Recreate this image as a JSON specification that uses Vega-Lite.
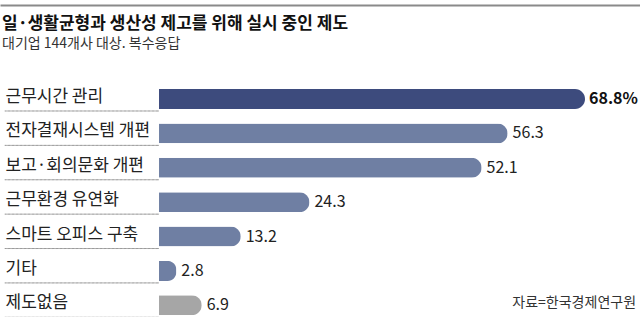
{
  "$schema": "https://vega.github.io/schema/vega-lite/v6.json",
  "autosize": {"type": "none"},
  "padding": 0,
  "width": 640,
  "height": 317,
  "background": "#ffffff",
  "config": {
    "view": {"stroke": null},
    "font": "Noto Sans CJK KR"
  },
  "title": {
    "text": "일·생활균형과 생산성 제고를 위해 실시 중인 제도",
    "subtitle": "대기업 144개사 대상. 복수응답",
    "orient": "top",
    "anchor": "start",
    "dx": 2,
    "offset": -52,
    "fontSize": 17,
    "fontWeight": "bold",
    "color": "#111111",
    "subtitleFontSize": 14,
    "subtitleColor": "#333333",
    "subtitlePadding": 4
  },
  "data": {"values": [
    {"item": "근무시간 관리", "value": 68.8, "label": "68.8%", "group": "top"},
    {"item": "전자결재시스템 개편", "value": 56.3, "label": "56.3", "group": "normal"},
    {"item": "보고·회의문화 개편", "value": 52.1, "label": "52.1", "group": "normal"},
    {"item": "근무환경 유연화", "value": 24.3, "label": "24.3", "group": "normal"},
    {"item": "스마트 오피스 구축", "value": 13.2, "label": "13.2", "group": "normal"},
    {"item": "기타", "value": 2.8, "label": "2.8", "group": "normal"},
    {"item": "제도없음", "value": 6.9, "label": "6.9", "group": "none"}
  ]},
  "encoding": {
    "y": {
      "field": "item", "type": "nominal", "sort": null,
      "scale": {"range": [87.3, 317], "paddingInner": 0.42, "paddingOuter": 0.05},
      "axis": {
        "title": null, "domain": false, "ticks": false,
        "labelAlign": "left", "labelPadding": -5, "labelBaseline": "middle",
        "labelFontSize": 17, "labelColor": "#222222", "labelLimit": 0,
        "labelOffset": -2
      }
    }
  },
  "layer": [
    {
      "mark": {"type": "bar", "filled": false, "color": "#9a9a9a", "strokeWidth": 1, "strokeDash": [2, 2], "height": 0.01, "yOffset": 12},
      "encoding": {
        "x": {"datum": -24.9}
      }
    },
    {
      "mark": {"type": "bar", "cornerRadiusEnd": 10},
      "encoding": {
        "x": {"field": "value", "type": "quantitative",
          "scale": {"domain": [-25.68, 77.68], "nice": false, "zero": false},
          "axis": {"orient": "top", "offset": -5, "domain": true, "domainColor": "#8a8a8a", "domainWidth": 2,
            "ticks": false, "labels": false, "grid": false, "title": null}},
        "color": {"field": "group", "type": "nominal",
          "scale": {"domain": ["top", "normal", "none"], "range": ["#3d4b7d", "#6f7fa3", "#a6a6a6"]},
          "legend": null}
      }
    },
    {
      "transform": [{"filter": "datum.group !== 'top'"}],
      "mark": {"type": "text", "align": "left", "baseline": "middle", "dx": 5, "fontSize": 16, "color": "#222222"},
      "encoding": {
        "x": {"field": "value", "type": "quantitative"},
        "text": {"field": "label"}
      }
    },
    {
      "transform": [{"filter": "datum.group === 'top'"}],
      "mark": {"type": "text", "align": "left", "baseline": "middle", "dx": 4, "fontSize": 16, "fontWeight": "bold", "color": "#111111"},
      "encoding": {
        "x": {"field": "value", "type": "quantitative"},
        "text": {"field": "label"}
      }
    },
    {
      "data": {"values": [{"source": "자료=한국경제연구원"}]},
      "mark": {"type": "text", "align": "right", "baseline": "middle", "fontSize": 14, "color": "#333333", "dy": -2},
      "encoding": {
        "x": {"datum": 77.04},
        "y": {"datum": "제도없음"},
        "text": {"field": "source"}
      }
    }
  ]
}
